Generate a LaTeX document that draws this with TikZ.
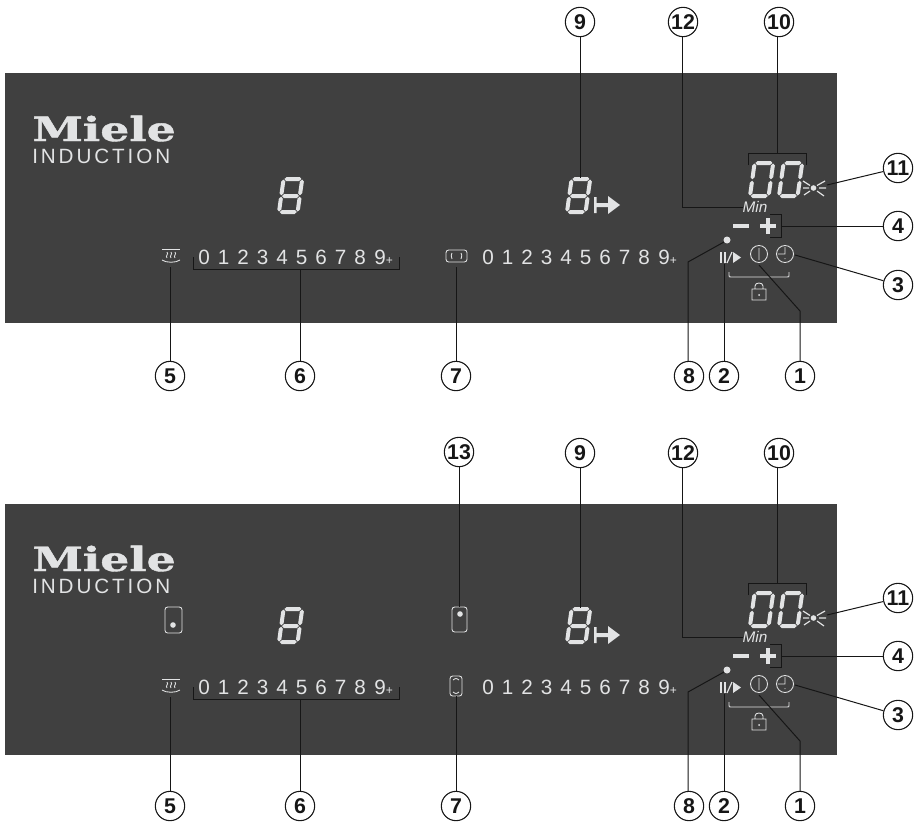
\documentclass[tikz,border=0pt]{standalone}
\usepackage{fontspec}
\setmainfont{Liberation Sans}
\newfontfamily\logofont[FakeBold=1.2]{DejaVu Serif}
\newfontfamily\widefont[LetterSpace=14]{Liberation Sans}
\usepackage{xcolor}
\definecolor{panelgrey}{HTML}{404040}
\definecolor{lightmark}{HTML}{E2E3E4}
\definecolor{leaderink}{HTML}{161616}

% one segment of a display, lying or standing
\newcommand{\hseg}[3]{\fill[lightmark] (#1,#3) -- (#1+2,#3-2) -- (#2-2,#3-2) -- (#2,#3) -- (#2-2,#3+2) -- (#1+2,#3+2) -- cycle;}
\newcommand{\vseg}[3]{\fill[lightmark] (#1,#2) -- (#1+2,#2+2) -- (#1+2,#3-2) -- (#1,#3) -- (#1-2,#3-2) -- (#1-2,#2+2) -- cycle;}

\tikzset{
  callout/.style={circle,draw=leaderink,line width=0.8pt,fill=white,minimum size=22pt,inner sep=0pt,font=\fontsize{16}{16}\selectfont\bfseries,text=leaderink},
  leader/.style={draw=leaderink,line width=0.75pt},
  levelnum/.style={anchor=base,inner sep=0pt,text=lightmark,font=\fontsize{15.5}{16}\selectfont},
  icon/.style={draw=lightmark,line width=0.65pt},
  digitzero/.pic={
    \hseg{2.5}{19.5}{-35}
    \hseg{2.5}{19.5}{-2}
    \vseg{1.7}{-34.5}{-18.7}
    \vseg{20.3}{-34.5}{-18.7}
    \vseg{1.7}{-17.3}{-2.5}
    \vseg{20.3}{-17.3}{-2.5}
  },
  digiteight/.pic={
    \hseg{2.5}{19.5}{-35}
    \hseg{2.5}{19.5}{-18}
    \hseg{2.5}{19.5}{-2}
    \vseg{1.7}{-34.5}{-18.7}
    \vseg{20.3}{-34.5}{-18.7}
    \vseg{1.7}{-17.3}{-2.5}
    \vseg{20.3}{-17.3}{-2.5}
  }
}

\begin{document}
\begin{tikzpicture}[x=0.75pt,y=-0.75pt]
  \useasboundingbox (0,0) rectangle (920,821);

  % Both panels, the lower one 430 further down
  \foreach \p/\dy/\ptop/\pbot/\ctop in {a/0/73/323/22,b/430/74/325/23}{
    \begin{scope}[yshift=-\dy*0.75pt]
      \fill[panelgrey] (5,\ptop) rectangle (837,\pbot);

      % Logo
      \node[anchor=base west,inner sep=0pt,text=lightmark,font=\logofont\fontsize{25}{25}\selectfont\bfseries,xscale=1.37] (logo\p) at (32,141) {Miele};
      \node[anchor=base west,inner sep=0pt,text=lightmark,font=\widefont\fontsize{15.5}{16}\selectfont] (brand\p) at (32,163) {INDUCTION};

      % Displays
      \pic at (277,214) [xslant=0.14] {digiteight};
      \pic at (565,214) [xslant=0.14] {digiteight};
      \pic at (748,198) [xslant=0.14] {digitzero};
      \pic at (777,198) [xslant=0.14] {digitzero};
      \fill[lightmark] (594,197) rectangle (596.5,213) (596.5,203) rectangle (608,207)
        (608,196) -- (620,205) -- (608,214) -- cycle;

      % Level rows
      \foreach \n [count=\i from 0] in {0,...,8}{
        \node[levelnum] (left\p\n) at (204+19.5*\i,264) {\n};
        \node[levelnum] (right\p\n) at (488+19.5*\i,264) {\n};
      }
      \node[levelnum,anchor=base west] (left\p nine) at (374,264) {9\fontsize{9}{9}\selectfont+};
      \node[levelnum,anchor=base west] (right\p nine) at (658,264) {9\fontsize{9}{9}\selectfont+};

      % Keep warm symbol
      \draw[icon] (162,249) -- (180,249);
      \draw[icon] (162,260) .. controls (166,263) and (176,263) .. (180,260);
      \foreach \sx in {167,171,175}
        \draw[icon] (\sx,252) .. controls (\sx+2,254) and (\sx-2,256) .. (\sx,258);

      % Minute marking and keys
      \node[inner sep=0pt,text=lightmark,font=\itshape\fontsize{11.5}{12}\selectfont] (minute\p) at (755,206.5) {Min};
      \draw[lightmark,line width=3.4pt] (733,226) -- (749,226) (760,226) -- (776,226) (768,218) -- (768,234);
      \fill[lightmark] (727,240) circle (3.5);
      \draw[lightmark,line width=1.3pt] (721,252) -- (721,263) (725,252) -- (725,263);
      \draw[lightmark,line width=0.9pt] (727,263) -- (732,252);
      \fill[lightmark] (733,252) -- (741,257.5) -- (733,263) -- cycle;
      \draw[icon] (759,254) circle (8.5) (759,248) -- (759,260);
      \draw[icon] (785,254) circle (8.5) (785,247) -- (785,254) -- (778,254) (785,258) -- (785,259);
      \draw[icon] (729,272) -- (729,275) .. controls (729,277) .. (731,277) -- (787,277) .. controls (789,277) .. (789,275) -- (789,272);
      \draw[icon] (752,289) rectangle (766,300) (755,289) -- (755,286) .. controls (755,282) and (763,282) .. (763,286) -- (763,289);
      \fill[lightmark] (759,295) circle (1);

      % Timer light
      \fill[lightmark] (813.5,188) circle (2.8);
      \draw[icon,line width=0.9pt] (803,181) -- (810,185.5) (803,188) -- (809,188) (804,195) -- (810,191)
        (825,181) -- (817,185.5) (826,188) -- (819,188) (824,196) -- (817,191);

      % Callouts
      \node[callout] (c9\p) at (580,\ctop) {9};
      \node[callout] (c12\p) at (683,\ctop) {12};
      \node[callout] (c10\p) at (779,\ctop) {10};
      \node[callout] (c11\p) at (898,168) {11};
      \node[callout] (c4\p) at (898,226) {4};
      \node[callout] (c3\p) at (898,285) {3};
      \node[callout] (c5\p) at (170,376) {5};
      \node[callout] (c6\p) at (300,376) {6};
      \node[callout] (c7\p) at (456,376) {7};
      \node[callout] (c8\p) at (689,376) {8};
      \node[callout] (c2\p) at (724,376) {2};
      \node[callout] (c1\p) at (800,376) {1};

      % Leader ends
      \coordinate (e9\p) at (580,178);
      \coordinate (e12\p) at (682,207);
      \coordinate (f12\p) at (743,207);
      \coordinate (e10\p) at (777,153);
      \coordinate (e11\p) at (827,185);
      \coordinate (e4\p) at (781,226);
      \coordinate (e3\p) at (795,255);
      \coordinate (e1\p) at (759,265);
      \coordinate (f1\p) at (800,311);
      \coordinate (e2\p) at (724,264);
      \coordinate (e8\p) at (724,242);
      \coordinate (f8\p) at (688,262);
      \coordinate (e6\p) at (300,269);
      \coordinate (e5\p) at (170,267);

      \draw[leader] (c9\p) -- (e9\p);
      \draw[leader] (c12\p.south -| e12\p) -- (e12\p) -- (f12\p);
      \draw[leader] (c10\p.south -| e10\p) -- (e10\p);
      \draw[leader] (748,165) -- (748,153) -- (806,153) -- (806,165);
      \draw[leader] (c11\p) -- (e11\p);
      \draw[leader] (c4\p) -- (e4\p);
      \draw[leader] (770,214) -- (781,214) -- (781,237) -- (770,237);
      \draw[leader] (c3\p) -- (e3\p);
      \draw[leader] (c1\p) -- (f1\p) -- (e1\p);
      \draw[leader] (c2\p) -- (e2\p);
      \draw[leader] (c8\p.north -| f8\p) -- (f8\p) -- (e8\p);
      \draw[leader] (c6\p) -- (e6\p);
      \draw[leader] (193,257) -- (193,269) -- (399,269) -- (399,257);
      \draw[leader] (c5\p) -- (e5\p);
    \end{scope}
  }

  % Cooking zone symbols of the upper panel
  \draw[icon,rounded corners=2pt] (446,250) rectangle (467,262);
  \draw[icon] (452,253) .. controls (451,255) .. (452,259) (461,253) .. controls (462,255) .. (461,259);
  \coordinate (e7a) at (456,267);
  \draw[leader] (c7a) -- (e7a);

  % Cooking zone symbols of the lower panel
  \draw[icon,rounded corners=2pt] (450,676) rectangle (462,696);
  \draw[icon] (453,680) .. controls (456,678) .. (459,680) (453,692) .. controls (456,694) .. (459,692);
  \coordinate (e7b) at (456,696);
  \draw[leader] (c7b) -- (e7b);
  \draw[icon,rounded corners=2pt] (452,607) rectangle (467,632);
  \fill[lightmark] (460,614) circle (2.8);
  \draw[icon,rounded corners=2pt] (165,607) rectangle (182,633);
  \fill[lightmark] (173,625) circle (2.8);
  \node[callout] (c13b) at (459,452) {13};
  \coordinate (e13b) at (459,607);
  \draw[leader] (c13b) -- (e13b);
\end{tikzpicture}
\end{document}
